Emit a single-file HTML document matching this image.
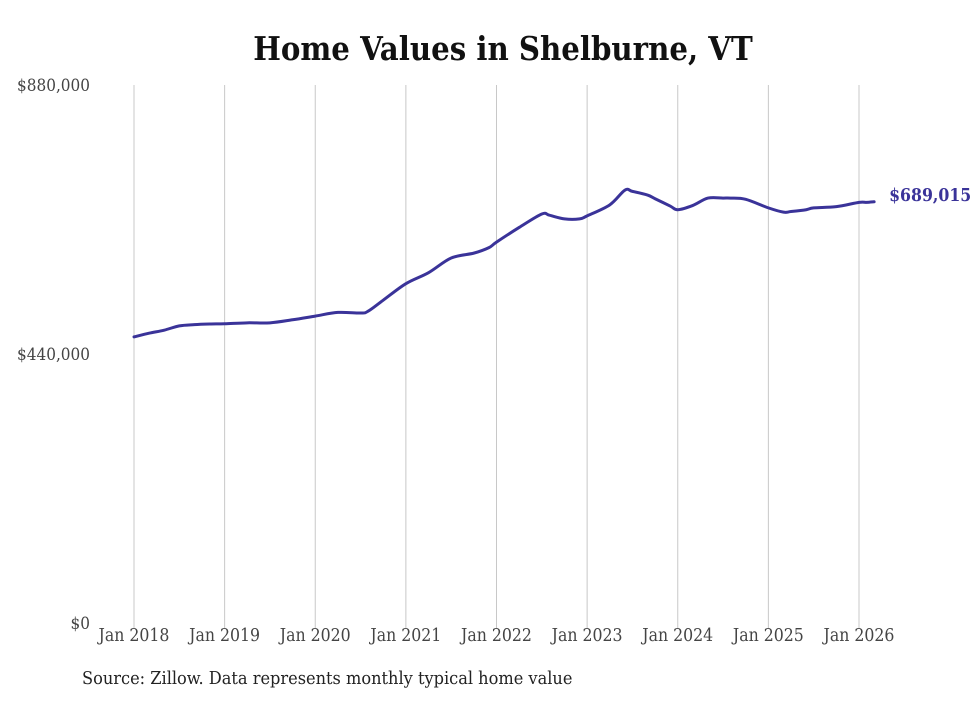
<!DOCTYPE html>
<html><head><meta charset="utf-8">
<style>
body{margin:0;background:#fff;}
svg text{font-family:"DejaVu Serif","Liberation Serif",serif;font-stretch:condensed;}
</style></head>
<body>
<svg width="980" height="699" viewBox="0 0 980 699" xmlns="http://www.w3.org/2000/svg">
<rect width="980" height="699" fill="#fff"/>
<text x="503" y="60" text-anchor="middle" font-size="32.5" font-weight="bold" fill="#111">Home Values in Shelburne, VT</text>
<g id="grid"></g>
<g id="yaxis"></g>
<g id="xaxis"></g>
<path id="line" fill="none" stroke="#3a3399" stroke-width="3" stroke-linejoin="round" stroke-linecap="round"/>
<text id="endlabel" font-size="17.5" font-weight="bold" fill="#3a3399"></text>
<text x="82" y="684" font-size="18" fill="#222">Source: Zillow. Data represents monthly typical home value</text>
</svg>
<script>
// months since Jan 2018
const months=[0,2,4,6,8,10,12,15,18,21,24,27,30,31,33,36,39,42,45,47,48,51,54,55,57,59,60,63,65,66,68,69,71,72,74,76,78,79,81,84,86,87,89,90,93,96,97,98];
const values=[468000,474000,479000,486000,488000,489000,489500,491000,491000,496000,502000,508000,507000,510000,528000,555000,573000,597000,605000,614000,623000,647000,669000,667000,661000,661000,666000,684000,708000,706000,700000,694000,682000,676000,683000,695000,695000,695000,693000,679000,672000,673000,676000,679000,681000,688000,688000,689015];
const yTicks=[0,440000,880000];
const yTickLabels=["$0","$440,000","$880,000"];
const xTickMonths=[0,12,24,36,48,60,72,84,96];
const xTickLabels=["Jan 2018","Jan 2019","Jan 2020","Jan 2021","Jan 2022","Jan 2023","Jan 2024","Jan 2025","Jan 2026"];
const NS="http://www.w3.org/2000/svg";
const X0=134,X1=859,Y0=623,Y1=85;
const x=m=>X0+(X1-X0)*m/96;
const y=v=>Y0-(Y0-Y1)*v/880000;
const grid=document.getElementById('grid'),xa=document.getElementById('xaxis'),ya=document.getElementById('yaxis');
xTickMonths.forEach((m,i)=>{
  const l=document.createElementNS(NS,'line');
  l.setAttribute('x1',x(m));l.setAttribute('x2',x(m));l.setAttribute('y1',Y1);l.setAttribute('y2',Y0+5);
  l.setAttribute('stroke','#c8c8c8');l.setAttribute('stroke-width','1');
  
  
  grid.appendChild(l);
  const t=document.createElementNS(NS,'text');
  t.setAttribute('x',x(m));t.setAttribute('y',Y0+18);t.setAttribute('text-anchor','middle');
  t.setAttribute('font-size','17.5');t.setAttribute('fill','#444');t.textContent=xTickLabels[i];
  
  
  xa.appendChild(t);
});
yTicks.forEach((v,i)=>{
  const t=document.createElementNS(NS,'text');
  t.setAttribute('x',90);t.setAttribute('y',y(v)+6);t.setAttribute('text-anchor','end');
  t.setAttribute('font-size','17');t.setAttribute('fill','#444');t.textContent=yTickLabels[i];
  
  
  ya.appendChild(t);
});
const pts=months.map((m,i)=>[x(m),y(values[i])]);
let d='M'+pts[0][0]+','+pts[0][1];
for(let i=0;i<pts.length-1;i++){
  const p0=pts[i-1]||pts[i],p1=pts[i],p2=pts[i+1],p3=pts[i+2]||p2;
  const c1=[p1[0]+(p2[0]-p0[0])/6,p1[1]+(p2[1]-p0[1])/6];
  const c2=[p2[0]-(p3[0]-p1[0])/6,p2[1]-(p3[1]-p1[1])/6];
  d+=' C'+c1+' '+c2+' '+p2;
}
document.getElementById('line').setAttribute('d',d);
const last=pts[pts.length-1];
const el=document.getElementById('endlabel');
el.setAttribute('x',last[0]+15);el.setAttribute('y',last[1]-1);
el.textContent='$'+values[values.length-1].toLocaleString('en-US');
</script>
</body></html>
